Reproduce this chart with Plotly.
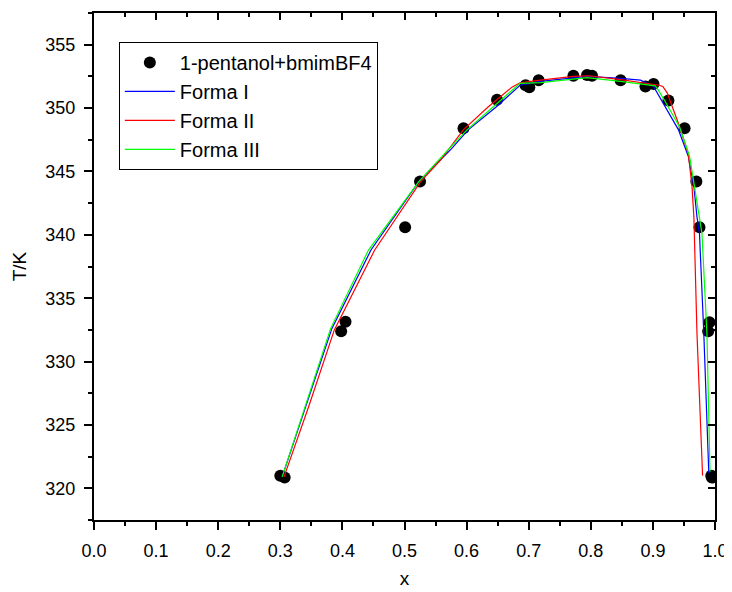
import plotly.graph_objects as go

# Experimental points (1-pentanol + bmimBF4)
exp_x = [0.300, 0.307, 0.398, 0.405, 0.501, 0.525, 0.595, 0.649, 0.695, 0.701, 0.716, 0.772,
         0.794, 0.802, 0.848, 0.888, 0.901, 0.925, 0.951, 0.970, 0.975, 0.989, 0.991, 0.994, 0.995]
exp_T = [321.0, 320.85, 332.4, 333.15, 340.6, 344.2, 348.4, 350.65, 351.8, 351.65, 352.2, 352.55,
         352.6, 352.55, 352.2, 351.7, 351.9, 350.6, 348.4, 344.2, 340.6, 332.4, 333.1, 321.0, 320.85]

# Forma I (blue)
f1_x = [0.303, 0.343, 0.383, 0.446, 0.523, 0.574, 0.603, 0.648, 0.686, 0.719, 0.794, 0.848,
        0.880, 0.901, 0.907, 0.917, 0.941, 0.957, 0.966, 0.971, 0.975, 0.982, 0.990]
f1_T = [320.9, 326.7, 332.6, 338.8, 344.2, 346.7, 348.3, 350.1, 351.8, 352.1, 352.5, 352.35,
        352.2, 351.7, 351.2, 350.4, 348.3, 346.2, 343.8, 341.4, 340.1, 332.2, 321.2]

# Forma II (red)
f2_x = [0.306, 0.346, 0.387, 0.452, 0.526, 0.558, 0.595, 0.635, 0.673, 0.686, 0.719, 0.772,
        0.797, 0.848, 0.910, 0.916, 0.923, 0.941, 0.957, 0.963, 0.966, 0.971, 0.980]
f2_T = [320.9, 326.5, 332.5, 338.8, 344.2, 345.9, 348.3, 350.1, 351.65, 352.0, 352.2, 352.5,
        352.55, 352.25, 351.8, 351.7, 351.2, 348.8, 346.4, 343.8, 341.4, 332.2, 321.0]

# Forma III (green)
f3_x = [0.303, 0.342, 0.381, 0.442, 0.523, 0.570, 0.601, 0.643, 0.686, 0.719, 0.794, 0.848,
        0.904, 0.909, 0.920, 0.943, 0.959, 0.967, 0.975, 0.979, 0.987, 0.992]
f3_T = [320.9, 326.8, 332.6, 338.8, 344.2, 346.7, 348.3, 350.1, 351.95, 352.0, 352.4, 352.1,
        351.75, 351.4, 350.5, 348.5, 346.2, 343.8, 341.4, 340.1, 332.2, 321.3]

x_range = [0.0, 1.0]
y_range = [317.5, 357.5]
FONT = "Liberation Sans, Arial, sans-serif"

fig = go.Figure()
fig.add_trace(go.Scatter(x=exp_x, y=exp_T, mode="markers", name="1-pentanol+bmimBF4",
                         marker=dict(color="black", size=12)))
fig.add_trace(go.Scatter(x=f1_x, y=f1_T, mode="lines", name="Forma I",
                         line=dict(color="#0000FF", width=1.2)))
fig.add_trace(go.Scatter(x=f2_x, y=f2_T, mode="lines", name="Forma II",
                         line=dict(color="#FF0000", width=1.2)))
fig.add_trace(go.Scatter(x=f3_x, y=f3_T, mode="lines", name="Forma III",
                         line=dict(color="#00FF00", width=1.2)))
# empty trace to carry the mirrored top/right axes
fig.add_trace(go.Scatter(x=[None], y=[None], xaxis="x2", yaxis="y2", showlegend=False,
                         hoverinfo="skip"))

axis_common = dict(showline=True, linecolor="black", linewidth=2, showgrid=False,
                   zeroline=False, tickcolor="black", tickwidth=1.5, automargin=False)

# the page body has an 8 px margin, so the figure is 724x584 and margins are offset
fig.update_layout(
    width=724, height=584,
    margin=dict(l=86, r=17, t=5, b=72),
    paper_bgcolor="white", plot_bgcolor="white",
    font=dict(family=FONT, color="black", size=18),
    showlegend=True,
    legend=dict(x=0.04, y=0.943, xanchor="left", yanchor="top",
                bordercolor="black", borderwidth=1, bgcolor="white",
                font=dict(family=FONT, size=20, color="black"),
                itemwidth=50, tracegroupgap=0),
    xaxis=dict(range=x_range, dtick=0.1, tick0=0, tickformat=".1f",
               ticks="outside", ticklen=8, ticklabelstandoff=5,
               minor=dict(dtick=0.05, ticks="outside", ticklen=4, tickcolor="black", tickwidth=1.5),
               title=dict(text="x", font=dict(family=FONT, size=19), standoff=12),
               tickfont=dict(family=FONT, size=18), **axis_common),
    yaxis=dict(range=y_range, dtick=5, tick0=0,
               ticks="outside", ticklen=8, ticklabelstandoff=5,
               minor=dict(dtick=2.5, ticks="outside", ticklen=4, tickcolor="black", tickwidth=1.5),
               title=dict(text="T/K", font=dict(family=FONT, size=19), standoff=14),
               tickfont=dict(family=FONT, size=18), **axis_common),
    xaxis2=dict(overlaying="x", side="top", anchor="y", range=x_range, dtick=0.1, tick0=0,
                ticks="inside", ticklen=7, showticklabels=False,
                minor=dict(dtick=0.05, ticks="inside", ticklen=4, tickcolor="black", tickwidth=1.5),
                **axis_common),
    yaxis2=dict(overlaying="y", side="right", anchor="x", range=y_range, dtick=5, tick0=0,
                ticks="inside", ticklen=7, showticklabels=False,
                minor=dict(dtick=2.5, ticks="inside", ticklen=4, tickcolor="black", tickwidth=1.5),
                **axis_common),
)

fig.write_html("out.html")
